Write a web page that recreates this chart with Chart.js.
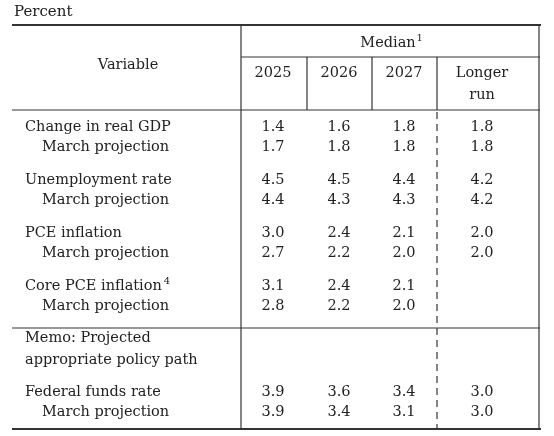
<!DOCTYPE html>
<html>
<head>
<meta charset="utf-8">
<script src="https://cdn.jsdelivr.net/npm/chart.js@4"></script>
<style>
body { margin: 0; background: #fff; }
#wrap { width: 554px; height: 436px; }
</style>
</head>
<body>
<div id="wrap"><canvas id="c"></canvas></div>
<script>
// table content
var columns = ['2025', '2026', '2027', 'Longer|run'];
var variables = ['Change in real GDP', 'Unemployment rate', 'PCE inflation', 'Core PCE inflation'];
var memoLabel = ['Memo: Projected', 'appropriate policy path'];
var fundsLabel = 'Federal funds rate';
var marchLabel = 'March projection';

var gdp = [1.4, 1.6, 1.8, 1.8];
var gdpMarch = [1.7, 1.8, 1.8, 1.8];
var unemp = [4.5, 4.5, 4.4, 4.2];
var unempMarch = [4.4, 4.3, 4.3, 4.2];
var pce = [3.0, 2.4, 2.1, 2.0];
var pceMarch = [2.7, 2.2, 2.0, 2.0];
var corePce = [3.1, 2.4, 2.1, null];
var corePceMarch = [2.8, 2.2, 2.0, null];
var funds = [3.9, 3.6, 3.4, 3.0];
var fundsMarch = [3.9, 3.4, 3.1, 3.0];

// layout in table units (x across, y down)
var colX = [273, 339, 404, 482];
var rowY = [127, 147, 180, 200, 233, 253, 286, 306];
var rowData = [gdp, gdpMarch, unemp, unempMarch, pce, pceMarch, corePce, corePceMarch];

var FONT = '"DejaVu Serif", "Liberation Serif", serif';
var SIZE = 14.5;

var tablePlugin = {
	id: 'table',
	afterDraw: function(chart) {
		var ctx = chart.ctx;
		var sx = chart.scales.x, sy = chart.scales.y;
		var X = function(v) { return sx.getPixelForValue(v); };
		var Y = function(v) { return sy.getPixelForValue(v); };

		function line(x1, y1, x2, y2, w, dash) {
			ctx.save();
			ctx.strokeStyle = '#333';
			ctx.lineWidth = w;
			ctx.setLineDash(dash || []);
			ctx.beginPath();
			ctx.moveTo(X(x1), Y(y1));
			ctx.lineTo(X(x2), Y(y2));
			ctx.stroke();
			ctx.restore();
		}
		function text(t, x, y, align, size) {
			ctx.save();
			ctx.fillStyle = '#222';
			ctx.font = (size || SIZE) + 'px ' + FONT;
			ctx.textAlign = align || 'left';
			ctx.textBaseline = 'middle';
			ctx.fillText(t, X(x), Y(y));
			ctx.restore();
		}
		function width(t) {
			ctx.save();
			ctx.font = SIZE + 'px ' + FONT;
			var w = ctx.measureText(t).width;
			ctx.restore();
			return w;
		}

		// rules
		line(12, 25, 541, 25, 2.2);
		line(241, 57, 540, 57, 1.2);
		line(12, 110, 540, 110, 1.2);
		line(12, 328, 540, 328, 1.2);
		line(12, 429, 541, 429, 2.2);
		line(241, 25, 241, 429, 1.2);
		line(539, 25, 539, 429, 1.2);
		line(307, 57, 307, 110, 1.2);
		line(372, 57, 372, 110, 1.2);
		line(437, 57, 437, 110, 1.2);
		line(437, 112, 437, 429, 1.2, [7, 5]);

		// header
		text('Percent', 14, 12, 'left', 15);
		text('Variable', 128, 65, 'center');
		text('Median', 388, 43, 'center');
		text('1', 388 + width('Median') / 2 + 4, 38, 'center', 10);
		columns.forEach(function(c, i) {
			var parts = c.split('|');
			text(parts[0], colX[i], 73, 'center');
			if (parts[1]) text(parts[1], colX[i], 95, 'center');
		});

		// body
		variables.forEach(function(v, i) {
			text(v, 25, rowY[i * 2], 'left');
			text(marchLabel, 42, rowY[i * 2 + 1], 'left');
		});
		text('4', 25 + width(variables[3]) + 5, rowY[6] - 5, 'center', 10);
		rowData.forEach(function(r, j) {
			r.forEach(function(v, i) {
				if (v !== null) text(v.toFixed(1), colX[i], rowY[j], 'center');
			});
		});

		text(memoLabel[0], 25, 338, 'left');
		text(memoLabel[1], 25, 360, 'left');
		text(fundsLabel, 25, 392, 'left');
		text(marchLabel, 42, 412, 'left');
		funds.forEach(function(v, i) { text(v.toFixed(1), colX[i], 392, 'center'); });
		fundsMarch.forEach(function(v, i) { text(v.toFixed(1), colX[i], 412, 'center'); });
	}
};

new Chart(document.getElementById('c'), {
	type: 'scatter',
	data: { datasets: [{ data: [], pointRadius: 0 }] },
	options: {
		animation: false,
		responsive: true,
		maintainAspectRatio: false,
		layout: { padding: 0 },
		plugins: { legend: { display: false }, tooltip: { enabled: false } },
		scales: {
			x: { type: 'linear', min: 0, max: 554, display: false },
			y: { type: 'linear', min: 0, max: 436, reverse: true, display: false }
		}
	},
	plugins: [tablePlugin]
});
</script>
</body>
</html>
